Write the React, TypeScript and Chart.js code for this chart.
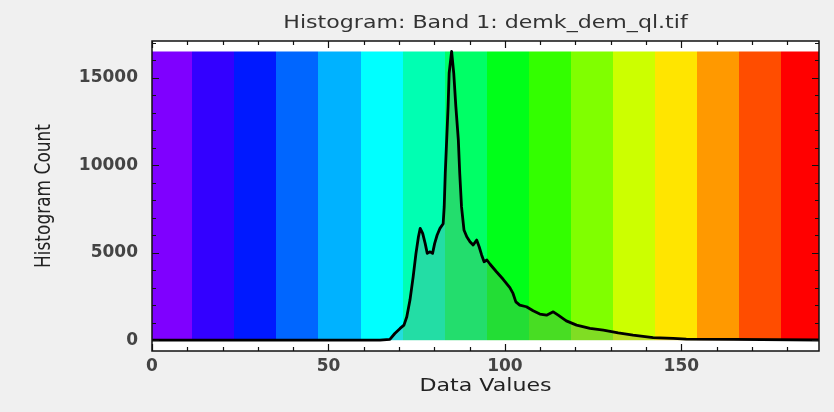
import React, { useEffect, useRef } from "react";
import { Chart, registerables } from "chart.js";

Chart.register(...registerables);

const chartTitle = "Histogram: Band 1: demk_dem_ql.tif";
const xAxisTitle = "Data Values";
const yAxisTitle = "Histogram Count";

const dataValues = [
  0, 64.6, 67.4, 68.8, 70.3, 71.4, 72.2, 73.1, 74.0, 74.8, 75.5, 76.0, 76.7, 77.4, 78.0,
  78.8, 79.5, 80.1, 80.8, 81.6, 82.5, 82.8, 83.1, 83.5, 83.9, 84.2, 84.9, 85.5, 86.1,
  86.8, 87.2, 87.7, 88.4, 89.2, 90.1, 91.0, 92.0, 92.7, 93.4, 94.1, 94.9, 95.8, 97.6,
  99.5, 101.4, 102.3, 103.1, 104.2, 106.1, 108.0, 109.9, 111.8, 113.7, 115.1, 117.4,
  120.3, 124.1, 127.9, 132.1, 136.3, 142.0, 147.7, 151.4, 164.7, 189,
];
const histogramCounts = [
  0, 0, 40, 380, 670, 860, 1340, 2290, 3620, 4960, 5910, 6390, 6100, 5530, 4960,
  5050, 4960, 5530, 6010, 6390, 6650, 7630, 9540, 11450, 13350, 15270, 16500, 15270, 13350,
  11450, 9540, 7630, 6300, 5910, 5630, 5440, 5720, 5340, 4870, 4480, 4580, 4340, 3910,
  3480, 3000, 2670, 2190, 2000, 1910, 1680, 1490, 1430, 1620, 1430, 1100,
  860, 670, 570, 420, 290, 150, 100, 60, 40, 10,
];
const bandEdges = [
  0, 11.3, 23.2, 35.1, 47.0, 59.1, 71.1, 83.0, 95.0, 106.8, 118.7, 130.6, 142.5, 154.4,
  166.3, 178.2, 189,
];
const bandColors = [
  "#7f00ff", "#3300ff", "#0019ff", "#0066ff", "#00b2ff", "#00ffff", "#00ffb2", "#00ff66",
  "#00ff19", "#33ff00", "#80ff00", "#ccff00", "#ffe500", "#ff9900", "#ff4d00", "#ff0000",
];
const xTickValues = [0, 50, 100, 150];
const yTickValues = [0, 5000, 10000, 15000];
const xRange = [0, 189];
const yRange = [-620, 17100];
const xMinorStep = 10;
const xMajorStep = 50;
const yMinorStep = 1000;
const yMajorStep = 5000;

const TEXT_STRETCH = 1.3;

const decorPlugin = {
  id: "decor",
  beforeDatasetsDraw(chart: any) {
    const { ctx, chartArea: a, scales } = chart;
    const x = scales.x;
    const y = scales.y;
    ctx.save();
    ctx.fillStyle = "#ffffff";
    ctx.fillRect(a.left, a.top, a.right - a.left, a.bottom - a.top);
    const top = y.getPixelForValue(Math.max(...histogramCounts));
    const base = y.getPixelForValue(0);
    for (let i = 0; i < bandColors.length; i++) {
      const x0 = Math.round(x.getPixelForValue(bandEdges[i]));
      const x1 = Math.round(x.getPixelForValue(bandEdges[i + 1]));
      ctx.fillStyle = bandColors[i];
      ctx.fillRect(x0, top, x1 - x0, base - top);
    }
    ctx.restore();
  },
  afterDatasetsDraw(chart: any) {
    const { ctx, chartArea: a, scales } = chart;
    const x = scales.x;
    const y = scales.y;
    ctx.save();
    ctx.strokeStyle = "#111111";
    ctx.lineWidth = 1.5;
    ctx.strokeRect(a.left, a.top, a.right - a.left, a.bottom - a.top);
    ctx.lineWidth = 1.2;
    ctx.beginPath();
    for (let v = xRange[0]; v <= xRange[1]; v += xMinorStep) {
      const px = Math.round(x.getPixelForValue(v)) + 0.5;
      const len = v % xMajorStep === 0 ? 7 : 4;
      ctx.moveTo(px, a.bottom);
      ctx.lineTo(px, a.bottom - len);
      ctx.moveTo(px, a.top);
      ctx.lineTo(px, a.top + len);
    }
    for (let v = 0; v <= yRange[1]; v += yMinorStep) {
      const py = Math.round(y.getPixelForValue(v)) + 0.5;
      const len = v % yMajorStep === 0 ? 7 : 4;
      ctx.moveTo(a.left, py);
      ctx.lineTo(a.left + len, py);
      ctx.moveTo(a.right, py);
      ctx.lineTo(a.right - len, py);
    }
    ctx.stroke();
    ctx.restore();
  },
  afterDraw(chart: any) {
    const { ctx, chartArea: a } = chart;
    const cx = (a.left + a.right) / 2;
    ctx.save();
    ctx.textAlign = "center";
    ctx.textBaseline = "middle";
    ctx.font = '17px "DejaVu Sans"';
    ctx.fillStyle = "#333333";
    ctx.save();
    ctx.translate(cx, 24);
    ctx.scale(TEXT_STRETCH, 1);
    ctx.fillText(chartTitle, 0, 0);
    ctx.restore();

    ctx.fillStyle = "#222222";
    ctx.save();
    ctx.translate(cx, 387);
    ctx.scale(TEXT_STRETCH, 1);
    ctx.fillText(xAxisTitle, 0, 0);
    ctx.restore();

    ctx.save();
    ctx.translate(45, (a.top + a.bottom) / 2);
    ctx.rotate(-Math.PI / 2);
    ctx.scale(1, 1.2);
    ctx.fillText(yAxisTitle, 0, 0);
    ctx.restore();
    ctx.restore();
  },
};

export default function App() {
  const canvasRef = useRef<HTMLCanvasElement | null>(null);

  useEffect(() => {
    const canvas = canvasRef.current;
    if (!canvas) return;
    const tickFont = { family: "DejaVu Sans", size: 17, weight: "bold" as const };
    const chart = new Chart(canvas, {
      type: "line",
      data: {
        datasets: [
          {
            data: dataValues.map((v, i) => ({ x: v, y: histogramCounts[i] })),
            borderColor: "#000000",
            borderWidth: 2.8,
            backgroundColor: "rgba(128,128,128,0.27)",
            fill: "origin",
            pointRadius: 0,
            tension: 0,
            borderJoinStyle: "round",
          },
        ],
      },
      options: {
        animation: false,
        responsive: false,
        devicePixelRatio: 1,
        layout: { padding: { left: 0, right: 15, top: 41, bottom: 0 } },
        plugins: {
          legend: { display: false },
          tooltip: { enabled: false },
          title: { display: false },
        },
        scales: {
          x: {
            type: "linear",
            min: xRange[0],
            max: xRange[1],
            afterFit: (s: any) => {
              s.height = 61;
            },
            afterBuildTicks: (s: any) => {
              s.ticks = xTickValues.map((v) => ({ value: v }));
            },
            grid: { display: false, drawTicks: false },
            border: { display: false },
            ticks: {
              padding: 5,
              color: "#444444",
              font: tickFont,
              maxRotation: 0,
              autoSkip: false,
              callback: (v: any) => String(v),
            },
          },
          y: {
            type: "linear",
            min: yRange[0],
            max: yRange[1],
            afterFit: (s: any) => {
              s.width = 152;
            },
            afterBuildTicks: (s: any) => {
              s.ticks = yTickValues.map((v) => ({ value: v }));
            },
            grid: { display: false, drawTicks: false },
            border: { display: false },
            ticks: {
              padding: 14,
              color: "#444444",
              font: tickFont,
              autoSkip: false,
              callback: (v: any) => String(v),
            },
          },
        },
      },
      plugins: [decorPlugin],
    });
    return () => chart.destroy();
  }, []);

  return (
    <div
      style={{
        position: "fixed",
        left: 0,
        top: 0,
        width: 834,
        height: 412,
        background: "#f0f0f0",
      }}
    >
      <canvas ref={canvasRef} width={834} height={412} style={{ display: "block" }} />
    </div>
  );
}
